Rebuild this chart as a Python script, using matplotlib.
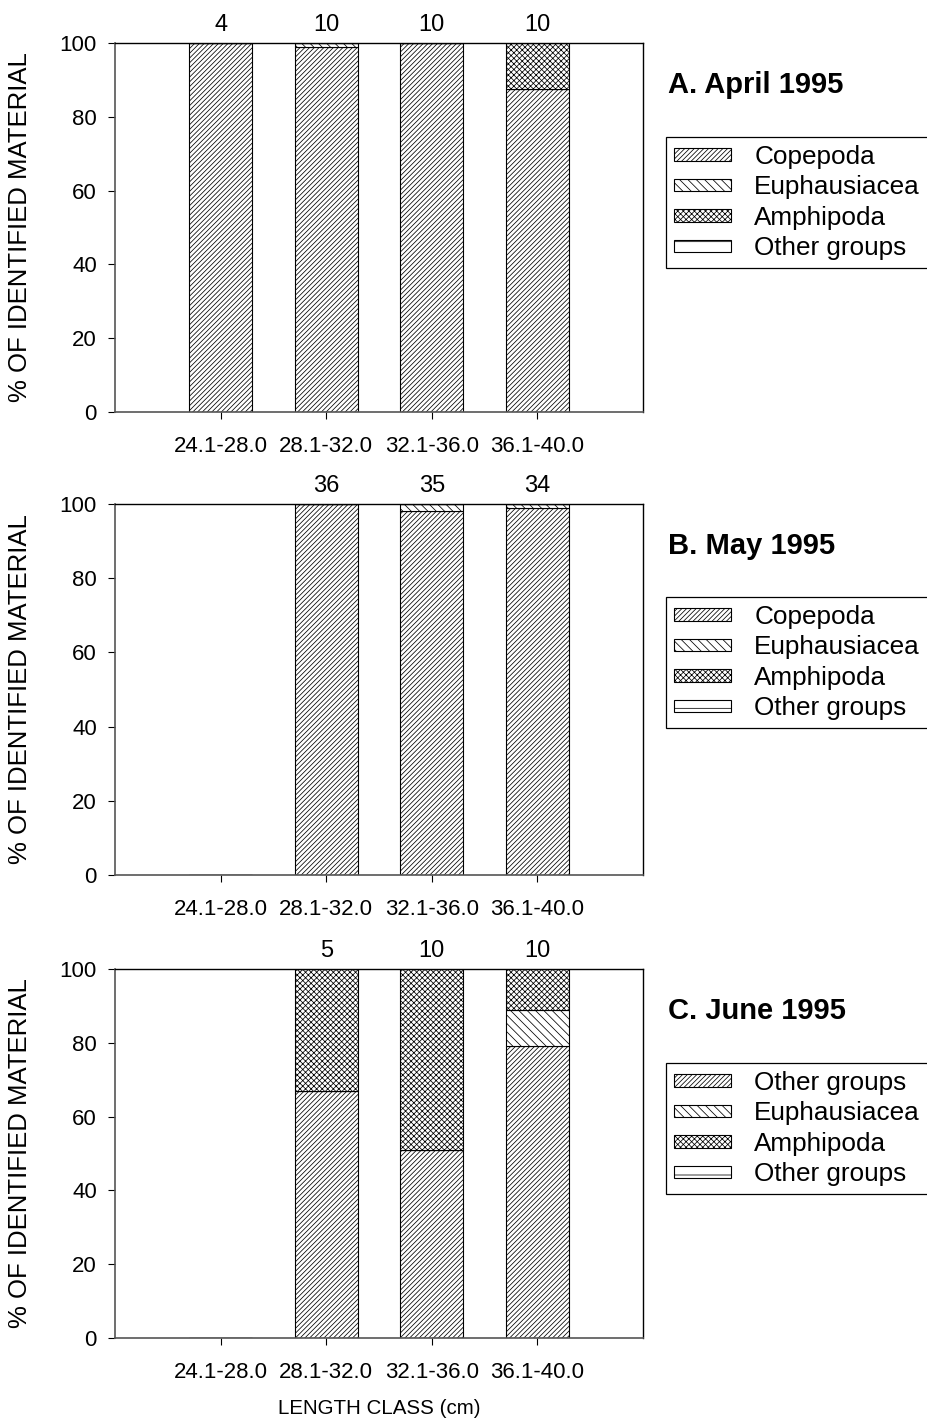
import numpy as np
import matplotlib
matplotlib.use('Agg')
import matplotlib.pyplot as plt

plt.rcParams['font.family'] = ['Liberation Sans', 'DejaVu Sans']
plt.rcParams['hatch.linewidth'] = 0.55

# data
classes = ['24.1-28.0', '28.1-32.0', '32.1-36.0', '36.1-40.0']

a_cope = [100, 99, 100, 87.5]
a_euph = [0, 1, 0, 0]
a_amph = [0, 0, 0, 12.5]
a_other = [0, 0, 0, 0]
a_n = ['4', '10', '10', '10']

b_cope = [0, 100, 98, 99]
b_euph = [0, 0, 2, 1]
b_amph = [0, 0, 0, 0]
b_other = [0, 0, 0, 0]
b_n = ['', '36', '35', '34']

c_cope = [0, 67, 51, 79]
c_euph = [0, 0, 0, 10]
c_amph = [0, 33, 49, 11]
c_other = [0, 0, 0, 0]
c_n = ['', '5', '10', '10']

titles = ['A. April 1995', 'B. May 1995', 'C. June 1995']
labels_ab = ['Copepoda', 'Euphausiacea', 'Amphipoda', 'Other groups']
labels_c = ['Other groups', 'Euphausiacea', 'Amphipoda', 'Other groups']

hatches = ['///////', '\\\\\\\\', 'xxxxxx', '-']

panels = [
    ([a_cope, a_euph, a_amph, a_other], a_n, labels_ab),
    ([b_cope, b_euph, b_amph, b_other], b_n, labels_ab),
    ([c_cope, c_euph, c_amph, c_other], c_n, labels_c),
]

W, H = 927, 1421
fig = plt.figure(figsize=(W / 100, H / 100), dpi=100)

tops = [43, 504, 969]
bots = [412, 875, 1338]
leg_tops = [137, 597, 1063]
x0, x1 = 115, 643

fs = 16
x = np.arange(1, 5)

for i, (series, counts, labels) in enumerate(panels):
    ax = fig.add_axes([x0 / W, 1 - bots[i] / H, (x1 - x0) / W, (bots[i] - tops[i]) / H])
    bottom = np.zeros(4)
    handles = []
    for vals, hatch, lab in zip(series, hatches, labels):
        vals = np.array(vals, dtype=float)
        b = ax.bar(x, vals, 0.6, bottom=bottom, color='white', edgecolor='black',
                   hatch=hatch, linewidth=0.8, label=lab)
        handles.append(b)
        bottom += vals
    for xi, c in zip(x, counts):
        if c:
            ax.text(xi, 102, c, ha='center', va='bottom', fontsize=fs + 1, clip_on=False)
    ax.set_xlim(0, 5)
    ax.set_ylim(0, 100)
    ax.set_yticks(range(0, 101, 20))
    ax.set_xticks(x)
    ax.set_xticklabels(classes)
    ax.tick_params(labelsize=fs, direction='out', length=5, width=0.8, pad=8)
    ax.tick_params(axis='x', pad=12)
    for s in ['left', 'bottom']:
        ax.spines[s].set_color('#555555')
        ax.spines[s].set_linewidth(1.2)
    for s in ['top', 'right']:
        ax.spines[s].set_linewidth(1.0)
    ax.set_ylabel('% OF IDENTIFIED MATERIAL', fontsize=18.5)
    ax.yaxis.set_label_coords(-0.158, 0.5)
    if i == 2:
        ax.set_xlabel('LENGTH CLASS (cm)', fontsize=14.8, labelpad=12)
    fig.text(668 / W, 1 - (tops[i] + 42) / H, titles[i], fontsize=21, fontweight='bold',
             ha='left', va='center')
    leg = ax.legend(handles=handles, loc='upper left',
                    bbox_to_anchor=(666 / W, 1 - leg_tops[i] / H),
                    bbox_transform=fig.transFigure, borderaxespad=0,
                    fontsize=18.8, frameon=True, fancybox=False, framealpha=1,
                    edgecolor='black', handlelength=2.2, handleheight=0.35,
                    handletextpad=0.88, labelspacing=0.25, borderpad=0.3)
    leg.get_frame().set_linewidth(0.9)

plt.savefig('out.png', dpi=100)
